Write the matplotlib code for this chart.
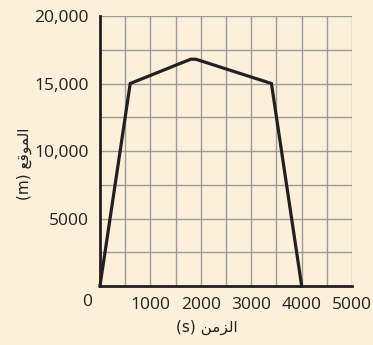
import matplotlib
matplotlib.use('Agg')
import matplotlib.pyplot as plt

# time (s) and position (m)
t = [0, 600, 1800, 1900, 3400, 4000]
pos = [0, 15000, 16800, 16800, 15000, 0]

xticks = [1000, 2000, 3000, 4000, 5000]
xlabels = ['1000', '2000', '3000', '4000', '5000']
yticks = [5000, 10000, 15000, 20000]
ylabels = ['5000', '10,000', '15,000', '20,000']

# arabic written in presentation forms, visual order
xlab = '(s) ' + '\ufee6\ufee3\ufeb0\ufedf\u0627'
ylab = '(m) ' + '\ufeca\ufed7\ufeee\ufee4\ufedf\u0627'

bg = '#fdf0da'
fig = plt.figure(figsize=(3.73, 3.45), dpi=100, facecolor=bg)
ax = fig.add_axes([0.268, 0.171, 0.676, 0.7826])
ax.set_facecolor(bg)

ax.set_xlim(0, 5000)
ax.set_ylim(0, 20000)

ax.plot(t, pos, color='#231f20', lw=2.3, solid_joinstyle='miter', clip_on=False, zorder=3)

ax.set_xticks(xticks)
ax.set_xticklabels(xlabels)
ax.set_xticks(range(500, 5001, 1000), minor=True)
ax.set_yticks(yticks)
ax.set_yticklabels(ylabels)
ax.set_yticks(range(2500, 20001, 5000), minor=True)
ax.grid(True, which='both', color='#9a9a9a', lw=1.0)
ax.set_axisbelow(True)
ax.tick_params(which='both', length=0)
ax.tick_params(axis='x', pad=8)
ax.tick_params(axis='y', pad=8)
for lab in ax.get_xticklabels() + ax.get_yticklabels():
    lab.set_family('Open Sans')
    lab.set_fontsize(12.5)
    lab.set_color('#231f20')

ax.text(-0.052, -0.03, '0', transform=ax.transAxes, ha='center', va='top',
        family='Open Sans', fontsize=12.5, color='#231f20')

for s in ['top', 'right']:
    ax.spines[s].set_visible(False)
for s in ['left', 'bottom']:
    ax.spines[s].set_color('#231f20')
    ax.spines[s].set_linewidth(2.0)

ax.set_xlabel(xlab, family=['DejaVu Sans'], fontsize=11, color='#231f20')
ax.set_ylabel(ylab, family=['DejaVu Sans'], fontsize=11, color='#231f20')
ax.xaxis.set_label_coords(0.425, -0.125)
ax.yaxis.set_label_coords(-0.27, 0.452)

fig.savefig('out.png', dpi=100, facecolor=bg)
